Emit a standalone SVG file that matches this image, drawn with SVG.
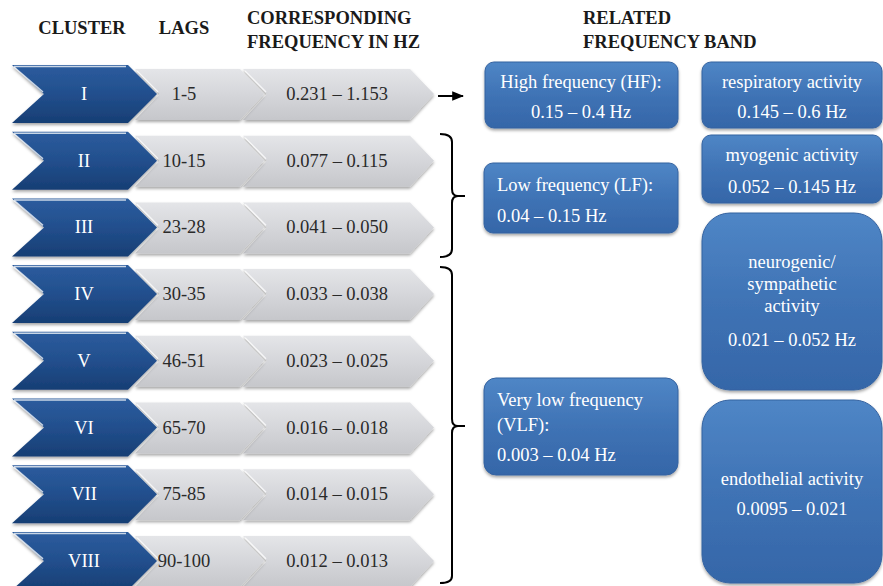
<svg xmlns="http://www.w3.org/2000/svg" width="883" height="586" viewBox="0 0 883 586">
  <defs>
    <linearGradient id="gBlue" x1="0" y1="0" x2="0" y2="1">
      <stop offset="0" stop-color="#2c5c9e"/>
      <stop offset="0.5" stop-color="#224f8d"/>
      <stop offset="1" stop-color="#173e74"/>
    </linearGradient>
    <linearGradient id="gGray" x1="0" y1="0" x2="0" y2="1">
      <stop offset="0" stop-color="#e4e5e8"/>
      <stop offset="0.5" stop-color="#d5d6da"/>
      <stop offset="1" stop-color="#c6c7cb"/>
    </linearGradient>
    <linearGradient id="gBox" x1="0" y1="0" x2="0" y2="1">
      <stop offset="0" stop-color="#4f86c6"/>
      <stop offset="0.5" stop-color="#3f73b5"/>
      <stop offset="1" stop-color="#3566a8"/>
    </linearGradient>
    <filter id="shadow" x="-10%" y="-10%" width="120%" height="130%">
      <feDropShadow dx="0" dy="2" stdDeviation="1.8" flood-color="#000" flood-opacity="0.35"/>
    </filter>
    <marker id="arrow" viewBox="0 0 10 10" refX="9" refY="5" markerWidth="6" markerHeight="6" orient="auto" markerUnits="strokeWidth">
      <path d="M0,1 L10,5 L0,9 Z" fill="#000"/>
    </marker>
    <!-- chevron shapes, drawn around a row centre at y=0 -->
    <polygon id="blueChev" points="12,-29 128,-29 157,0 128,29 12,29 44,0"/>
    <polygon id="lagChev" points="135,-25 240,-25 264,0 240,26 135,26 160,0"/>
    <polygon id="freqChev" points="243,-25 410,-25 434,0 410,26 243,26 267,0"/>
  </defs>
  <style>
    .hdr { font-family: "Liberation Serif", "Times New Roman", serif; font-weight: bold; font-size: 18.5px; fill: #1a1a1a; }
    .num { font-family: "Liberation Serif", "Times New Roman", serif; font-size: 18.5px; fill: #ffffff; text-anchor: middle; }
    .dark { font-family: "Liberation Serif", "Times New Roman", serif; font-size: 18.5px; fill: #2a2a2a; text-anchor: middle; }
    .box { fill: url(#gBox); stroke: #3563a0; stroke-width: 1; filter: url(#shadow); }
    .bt { font-family: "Liberation Serif", "Times New Roman", serif; font-size: 18.5px; fill: #ffffff; }
    .c { text-anchor: middle; }
    .blue { fill: url(#gBlue); filter: url(#shadow); }
    .gray { fill: url(#gGray); filter: url(#shadow); }
    .hl { fill: none; stroke: #ffffff; stroke-opacity: 0.75; stroke-width: 1.5; }
    .brace { fill: none; stroke: #000; stroke-width: 2; }
  </style>

  <rect width="883" height="586" fill="#ffffff"/>

  <!-- column headings -->
  <g id="headers">
    <text class="hdr" x="82" y="34" text-anchor="middle">CLUSTER</text>
    <text class="hdr" x="184" y="34" text-anchor="middle">LAGS</text>
    <text class="hdr" x="247" y="24">CORRESPONDING</text>
    <text class="hdr" x="247" y="48">FREQUENCY IN HZ</text>
    <text class="hdr" x="583" y="24">RELATED</text>
    <text class="hdr" x="583" y="48">FREQUENCY BAND</text>
  </g>

  <!-- cluster rows: lags and frequency chevrons first, cluster chevron on top -->
  <g id="row-I" transform="translate(0,94)">
    <use href="#freqChev" class="gray"/><path class="hl" d="M245,-23 L266,-2"/>
    <use href="#lagChev" class="gray"/><path class="hl" d="M137,-23 L158,-2"/>
    <use href="#blueChev" class="blue"/><path class="hl" d="M14,-27 L43,-2 M14,-27.5 L126,-27.5"/>
    <text class="num" x="84" y="6">I</text>
    <text class="dark" x="184" y="6">1-5</text>
    <text class="dark" x="337" y="6">0.231 – 1.153</text>
  </g>
  <g id="row-II" transform="translate(0,160.7)">
    <use href="#freqChev" class="gray"/><path class="hl" d="M245,-23 L266,-2"/>
    <use href="#lagChev" class="gray"/><path class="hl" d="M137,-23 L158,-2"/>
    <use href="#blueChev" class="blue"/><path class="hl" d="M14,-27 L43,-2 M14,-27.5 L126,-27.5"/>
    <text class="num" x="84" y="6">II</text>
    <text class="dark" x="184" y="6">10-15</text>
    <text class="dark" x="337" y="6">0.077 – 0.115</text>
  </g>
  <g id="row-III" transform="translate(0,227.4)">
    <use href="#freqChev" class="gray"/><path class="hl" d="M245,-23 L266,-2"/>
    <use href="#lagChev" class="gray"/><path class="hl" d="M137,-23 L158,-2"/>
    <use href="#blueChev" class="blue"/><path class="hl" d="M14,-27 L43,-2 M14,-27.5 L126,-27.5"/>
    <text class="num" x="84" y="6">III</text>
    <text class="dark" x="184" y="6">23-28</text>
    <text class="dark" x="337" y="6">0.041 – 0.050</text>
  </g>
  <g id="row-IV" transform="translate(0,294.1)">
    <use href="#freqChev" class="gray"/><path class="hl" d="M245,-23 L266,-2"/>
    <use href="#lagChev" class="gray"/><path class="hl" d="M137,-23 L158,-2"/>
    <use href="#blueChev" class="blue"/><path class="hl" d="M14,-27 L43,-2 M14,-27.5 L126,-27.5"/>
    <text class="num" x="84" y="6">IV</text>
    <text class="dark" x="184" y="6">30-35</text>
    <text class="dark" x="337" y="6">0.033 – 0.038</text>
  </g>
  <g id="row-V" transform="translate(0,360.8)">
    <use href="#freqChev" class="gray"/><path class="hl" d="M245,-23 L266,-2"/>
    <use href="#lagChev" class="gray"/><path class="hl" d="M137,-23 L158,-2"/>
    <use href="#blueChev" class="blue"/><path class="hl" d="M14,-27 L43,-2 M14,-27.5 L126,-27.5"/>
    <text class="num" x="84" y="6">V</text>
    <text class="dark" x="184" y="6">46-51</text>
    <text class="dark" x="337" y="6">0.023 – 0.025</text>
  </g>
  <g id="row-VI" transform="translate(0,427.5)">
    <use href="#freqChev" class="gray"/><path class="hl" d="M245,-23 L266,-2"/>
    <use href="#lagChev" class="gray"/><path class="hl" d="M137,-23 L158,-2"/>
    <use href="#blueChev" class="blue"/><path class="hl" d="M14,-27 L43,-2 M14,-27.5 L126,-27.5"/>
    <text class="num" x="84" y="6">VI</text>
    <text class="dark" x="184" y="6">65-70</text>
    <text class="dark" x="337" y="6">0.016 – 0.018</text>
  </g>
  <g id="row-VII" transform="translate(0,494.2)">
    <use href="#freqChev" class="gray"/><path class="hl" d="M245,-23 L266,-2"/>
    <use href="#lagChev" class="gray"/><path class="hl" d="M137,-23 L158,-2"/>
    <use href="#blueChev" class="blue"/><path class="hl" d="M14,-27 L43,-2 M14,-27.5 L126,-27.5"/>
    <text class="num" x="84" y="6">VII</text>
    <text class="dark" x="184" y="6">75-85</text>
    <text class="dark" x="337" y="6">0.014 – 0.015</text>
  </g>
  <g id="row-VIII" transform="translate(0,560.9)">
    <use href="#freqChev" class="gray"/><path class="hl" d="M245,-23 L266,-2"/>
    <use href="#lagChev" class="gray"/><path class="hl" d="M137,-23 L158,-2"/>
    <use href="#blueChev" class="blue"/><path class="hl" d="M14,-27 L43,-2 M14,-27.5 L126,-27.5"/>
    <text class="num" x="84" y="6">VIII</text>
    <text class="dark" x="184" y="6">90-100</text>
    <text class="dark" x="337" y="6">0.012 – 0.013</text>
  </g>

  <!-- connectors: arrow for cluster I, braces for the grouped clusters -->
  <g id="connectors">
    <line x1="438" y1="96" x2="463" y2="96" stroke="#000" stroke-width="2" marker-end="url(#arrow)"/>
    <path class="brace" d="M440,134 Q452,134 452,142 L452,189 Q452,196 458,196 L465,196 M458,196 Q452,196 452,203 L452,249 Q452,257 440,257"/>
    <path class="brace" d="M440,267 Q452,267 452,275 L452,419 Q452,426 458,426 L465,426 M458,426 Q452,426 452,433 L452,576 Q452,583 440,583"/>
  </g>

  <!-- frequency band boxes -->
  <g id="band-HF">
    <rect class="box" x="485" y="62" width="193" height="66" rx="9"/>
    <text class="bt c" x="581" y="88">High frequency (HF):</text>
    <text class="bt c" x="581" y="118">0.15 – 0.4 Hz</text>
  </g>
  <g id="band-LF">
    <rect class="box" x="484" y="163" width="194" height="70" rx="9"/>
    <text class="bt" x="497" y="191">Low frequency (LF):</text>
    <text class="bt" x="497" y="222">0.04 – 0.15 Hz</text>
  </g>
  <g id="band-VLF">
    <rect class="box" x="484" y="378" width="194" height="97" rx="12"/>
    <text class="bt" x="497" y="406">Very low frequency</text>
    <text class="bt" x="497" y="431">(VLF):</text>
    <text class="bt" x="497" y="461">0.003 – 0.04 Hz</text>
  </g>

  <!-- physiological activity boxes -->
  <g id="activity-respiratory">
    <rect class="box" x="702" y="62" width="180" height="66" rx="9"/>
    <text class="bt c" x="792" y="88">respiratory activity</text>
    <text class="bt c" x="792" y="118">0.145 – 0.6 Hz</text>
  </g>
  <g id="activity-myogenic">
    <rect class="box" x="702" y="135" width="180" height="68" rx="9"/>
    <text class="bt c" x="792" y="161">myogenic activity</text>
    <text class="bt c" x="792" y="193">0.052 – 0.145 Hz</text>
  </g>
  <g id="activity-neurogenic">
    <rect class="box" x="702" y="213" width="180" height="177" rx="28"/>
    <text class="bt c" x="792" y="268">neurogenic/</text>
    <text class="bt c" x="792" y="290">sympathetic</text>
    <text class="bt c" x="792" y="312">activity</text>
    <text class="bt c" x="792" y="346">0.021 – 0.052 Hz</text>
  </g>
  <g id="activity-endothelial">
    <rect class="box" x="702" y="400" width="180" height="183" rx="28"/>
    <text class="bt c" x="792" y="485">endothelial activity</text>
    <text class="bt c" x="792" y="515">0.0095 – 0.021</text>
  </g>
</svg>
